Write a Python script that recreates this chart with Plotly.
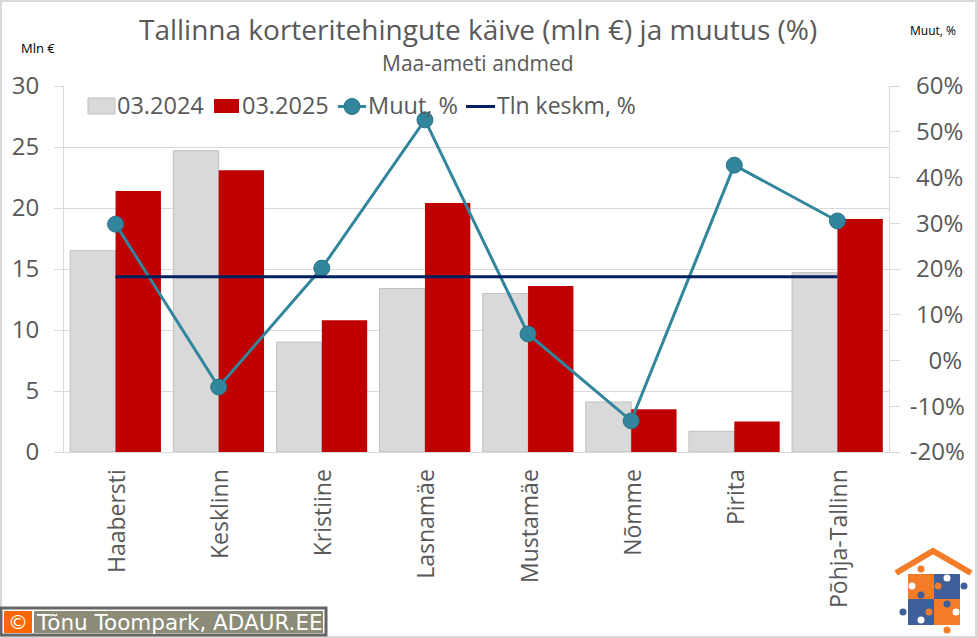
import plotly.graph_objects as go

WIDTH = 977
HEIGHT = 638
# plot area in page pixels
LEFT, RIGHT, TOP, BOTTOM = 64, 889, 86, 452
FONT = 'Open Sans'
GREY_TEXT = '#595959'
GRID = '#d9d9d9'
ORANGE = '#f47b28'
BLUE = '#3f5f9a'
TEAL = '#31859c'
NAVY = '#002060'
BAR_GREY = '#d9d9d9'
BAR_RED = '#c00000'

districts = ['Haabersti', 'Kesklinn', 'Kristiine', 'Lasnamäe', 'Mustamäe', 'Nõmme', 'Pirita', 'Põhja-Tallinn']
sales_2024 = [16.5, 24.7, 9.0, 13.4, 13.0, 4.1, 1.7, 14.7]
sales_2025 = [21.4, 23.1, 10.8, 20.4, 13.6, 3.5, 2.5, 19.1]
change_pct = [29.8, -5.8, 20.2, 52.6, 5.8, -13.2, 42.7, 30.5]
city_avg_pct = [18.3] * 8

pct_ticks = [-20, -10, 0, 10, 20, 30, 40, 50, 60]
# nbsp padding, plotly has no right-aligned labels on a right axis
pct_labels = ['-20%', '-10%', '\u00a0\u00a0\u00a00%', '\u00a010%', '\u00a020%', '\u00a030%', '\u00a040%', '\u00a050%', '\u00a060%']


def px_x(x):
    return (x - LEFT) / (RIGHT - LEFT)


def px_y(y):
    return (BOTTOM - y) / (BOTTOM - TOP)


def rect(x0, y0, x1, y1, fill, line=None, width=0):
    return dict(type='rect', xref='paper', yref='paper', x0=px_x(x0), x1=px_x(x1), y0=px_y(y0), y1=px_y(y1),
                fillcolor=fill, line=dict(color=line, width=width), layer='above')


def dot(x, y, r, fill, line=None, width=0):
    return dict(type='circle', xref='paper', yref='paper', x0=px_x(x - r), x1=px_x(x + r), y0=px_y(y + r), y1=px_y(y - r),
                fillcolor=fill, line=dict(color=line, width=width), layer='above')


def seg(x0, x1, y, color, width):
    return dict(type='line', xref='paper', yref='paper', x0=px_x(x0), x1=px_x(x1), y0=px_y(y), y1=px_y(y),
                line=dict(color=color, width=width), layer='above')


def note(x, y, text, size, color, font=FONT, xanchor='center'):
    return dict(xref='paper', yref='paper', x=px_x(x), y=px_y(y), text=text, showarrow=False,
                xanchor=xanchor, yanchor='middle', borderpad=0, borderwidth=0,
                font=dict(family=font, size=size, color=color))


fig = go.Figure()
fig.add_trace(go.Bar(x=districts, y=sales_2024, name='03.2024', marker=dict(color=BAR_GREY, line=dict(color='#bfbfbf', width=1))))
fig.add_trace(go.Bar(x=districts, y=sales_2025, name='03.2025', marker=dict(color=BAR_RED, line=dict(width=0))))
fig.add_trace(go.Scatter(x=districts, y=change_pct, name='Muut, %', yaxis='y2', mode='lines+markers',
                         line=dict(color=TEAL, width=3),
                         marker=dict(color=TEAL, size=16, line=dict(color='#2c7488', width=1))))
fig.add_trace(go.Scatter(x=districts, y=city_avg_pct, name='Tln keskm, %', yaxis='y2', mode='lines',
                         line=dict(color=NAVY, width=3)))

shapes = [
    # page frame and footer
    rect(1, 1, 976, 637, 'rgba(0,0,0,0)', '#d9d9d9', 2),
    rect(1, 608, 326, 635, '#ffffff', '#666666', 3),
    rect(4, 611, 32, 633, '#ff6600'),
    rect(34, 611, 323, 633, '#8b8b77'),
    # legend keys
    rect(88, 98, 115, 114, BAR_GREY, '#bfbfbf', 1),
    rect(214, 99, 239, 113, BAR_RED),
    seg(338, 366, 106.5, TEAL, 3),
    dot(352, 106.5, 8, TEAL, '#2c7488', 1),
    seg(466, 495, 106.5, NAVY, 3),
    # logo
    dict(type='path', xref='paper', yref='paper', layer='above', line=dict(color=ORANGE, width=6),
         path=f'M {px_x(896)} {px_y(573)} L {px_x(933)} {px_y(551)} L {px_x(971)} {px_y(573)}'),
    rect(908, 574, 934, 599, ORANGE),
    rect(934, 574, 960, 599, BLUE),
    rect(908, 599, 934, 625, BLUE),
    rect(934, 599, 960, 625, ORANGE),
    dot(921, 569, 3.5, ORANGE), dot(912, 586, 3.5, 'white'), dot(938, 586, 3.5, ORANGE),
    dot(947, 578, 3.5, 'white'), dot(964, 586, 3.5, BLUE), dot(921, 595, 3.5, BLUE),
    dot(903, 612, 3.5, BLUE), dot(929, 612, 3.5, ORANGE), dot(921, 620, 3.5, 'white'),
    dot(947, 604, 3.5, BLUE), dot(956, 612, 3.5, 'white'), dot(947, 630, 3.5, ORANGE),
]

annotations = [
    note(478, 29, 'Tallinna korteritehingute käive (mln €) ja muutus (%)', 28, GREY_TEXT),
    note(478, 63, 'Maa-ameti andmed', 21, GREY_TEXT),
    note(38, 48, 'Mln €', 13, '#000000'),
    note(933, 30, 'Muut, %', 12, '#000000'),
    note(117, 105, '03.2024', 23.5, GREY_TEXT, xanchor='left'),
    note(242, 105, '03.2025', 23.5, GREY_TEXT, xanchor='left'),
    note(368, 105, 'Muut, %', 23.5, GREY_TEXT, xanchor='left'),
    note(497, 105, 'Tln keskm, %', 23, GREY_TEXT, xanchor='left'),
    note(18, 622, '©', 20, 'white', font='DejaVu Sans'),
    note(179, 622, 'Tõnu Toompark, ADAUR.EE', 21.5, 'white', font='DejaVu Sans'),
]

fig.update_layout(
    width=WIDTH, height=HEIGHT, autosize=False,
    margin=dict(l=LEFT, r=WIDTH - RIGHT, t=TOP, b=HEIGHT - BOTTOM),
    paper_bgcolor='white', plot_bgcolor='white',
    font=dict(family=FONT, color=GREY_TEXT),
    barmode='group', bargap=0.12, bargroupgap=0,
    showlegend=False,
    xaxis=dict(tickangle=-90, tickfont=dict(size=23), showgrid=False, showline=True, linecolor=GRID, linewidth=1,
               ticks='outside', ticklen=7, tickcolor='rgba(0,0,0,0)', automargin=False, ticklabelshift=2),
    yaxis=dict(range=[0, 30], dtick=5, tickfont=dict(size=24), gridcolor=GRID, showline=True, linecolor=GRID,
               ticks='outside', ticklen=9, tickcolor=GRID, zeroline=False, ticklabelstandoff=10, automargin=False),
    yaxis2=dict(range=[-20, 60], tickmode='array', tickvals=pct_ticks, ticktext=pct_labels, overlaying='y', side='right',
                tickfont=dict(size=24), showgrid=False, zeroline=False, showline=True, linecolor=GRID,
                ticks='outside', ticklen=10, tickcolor=GRID, ticklabelstandoff=5, automargin=False),
    shapes=shapes,
    annotations=annotations,
)

fig.write_html("out.html", config={'displayModeBar': False}, post_script="document.body.style.margin='0';")
